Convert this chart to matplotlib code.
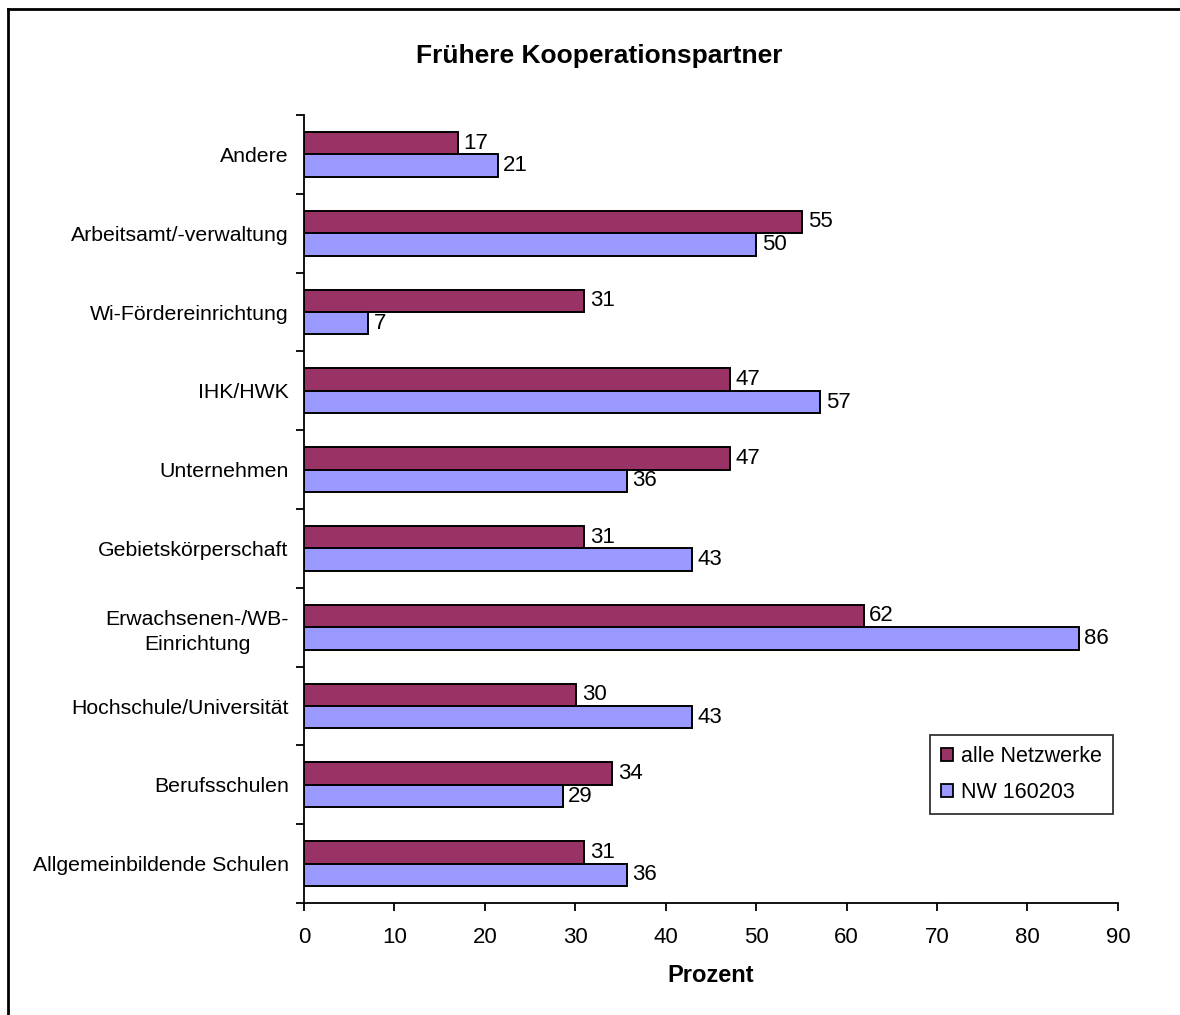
import matplotlib
matplotlib.use("Agg")
import matplotlib.pyplot as plt
from matplotlib.patches import Patch
from matplotlib.lines import Line2D
import numpy as np

plt.rcParams['font.family'] = ['Liberation Sans', 'DejaVu Sans']

# categories from bottom to top
categories = [
    "Allgemeinbildende Schulen",
    "Berufsschulen",
    "Hochschule/Universität",
    "Erwachsenen-/WB-\nEinrichtung",
    "Gebietskörperschaft",
    "Unternehmen",
    "IHK/HWK",
    "Wi-Fördereinrichtung",
    "Arbeitsamt/-verwaltung",
    "Andere",
]
alle_netzwerke = [31.0, 34.1, 30.1, 61.9, 31.0, 47.1, 47.1, 31.0, 55.1, 17.0]
nw_160203 = [35.7, 28.6, 42.9, 85.7, 42.9, 35.7, 57.1, 7.1, 50.0, 21.4]
series_names = ["alle Netzwerke", "NW 160203"]
colors = ["#993366", "#9999FF"]
x_ticks = [0, 10, 20, 30, 40, 50, 60, 70, 80, 90]

fig = plt.figure(figsize=(11.8, 10.15), dpi=100)
ax = fig.add_axes([0.2576, 0.1103, 0.6898, 0.7764])

y = np.arange(len(categories))
h = 0.285
for vals, yoff, col in [(alle_netzwerke, h / 2, colors[0]), (nw_160203, -h / 2, colors[1])]:
    bars = ax.barh(y + yoff, vals, height=h, color=col, edgecolor="black", linewidth=1.4)
    for b, v in zip(bars, vals):
        ax.text(v + 0.6, b.get_y() + h / 2, f"{round(v):d}", va="center", ha="left", fontsize=16)

ax.set_xlim(0, 90)
ax.set_ylim(-0.5, len(categories) - 0.5)
ax.set_xticks(x_ticks)
ax.tick_params(axis="x", labelsize=16, direction="out", length=6, width=1.3, pad=11)

ax.set_yticks(np.arange(-0.5, len(categories), 1.0))
ax.set_yticklabels([])
ax.tick_params(axis="y", which="major", direction="out", length=6, width=1.3)
ax.set_yticks(y, minor=True)
ax.set_yticklabels(categories, minor=True, fontsize=15.3)
ax.tick_params(axis="y", which="minor", length=0, pad=11)
for lbl in ax.get_yticklabels(minor=True):
    lbl.set_multialignment("center")
    lbl.set_linespacing(1.36)

for s in ["top", "right"]:
    ax.spines[s].set_visible(False)
for s in ["left", "bottom"]:
    ax.spines[s].set_linewidth(1.3)

ax.set_xlabel("Prozent", fontsize=17, fontweight="bold", labelpad=12)
fig.text(0.5075, 0.945, "Frühere Kooperationspartner", ha="center", va="center",
         fontsize=19, fontweight="bold")

handles = [Patch(facecolor=c, edgecolor="black", linewidth=1.3) for c in colors]
leg = ax.legend(handles, series_names, loc="upper left", bbox_to_anchor=(0.769, 0.213),
                fontsize=15.5, frameon=True, fancybox=False, shadow=False,
                handlelength=0.55, handleheight=0.55, handletextpad=0.4,
                borderpad=0.5, labelspacing=0.7, borderaxespad=0)
leg.get_frame().set_edgecolor("black")
leg.get_frame().set_linewidth(1.3)

# outer frame (top and left edges visible)
fig.add_artist(Line2D([8 / 1180, 1.0], [1 - 9 / 1015, 1 - 9 / 1015], color="black", lw=2))
fig.add_artist(Line2D([8 / 1180, 8 / 1180], [0.0, 1 - 9 / 1015], color="black", lw=2))

fig.savefig("out.png", dpi=100)
